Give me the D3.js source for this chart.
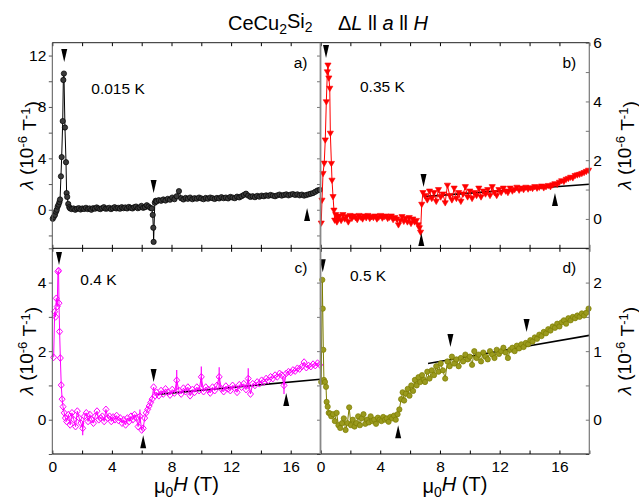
<!DOCTYPE html>
<html>
<head>
<meta charset="utf-8">
<script src="https://cdn.jsdelivr.net/npm/d3@7"></script>
<style>
  body { margin: 0; background: #fff; }
  text { font-family: "Liberation Sans", Arial, Helvetica, sans-serif; fill: #000; }
</style>
</head>
<body>
<svg id="chart" width="639" height="499"></svg>
<script>
// ---- values (field in T, lambda in 1e-6 / T) ----

// common high-field grid used by all four sweeps
const fieldHigh = [7.0,7.15,7.3,7.45,7.6,7.75,7.9,8.05,8.2,8.35,
  8.5,8.65,8.8,8.95,9.1,9.25,9.4,9.55,9.7,9.85,
  10.0,10.15,10.3,10.45,10.6,10.75,10.9,11.05,11.2,11.35,
  11.5,11.65,11.8,11.95,12.1,12.25,12.4,12.55,12.7,12.85,
  13.0,13.15,13.3,13.45,13.6,13.75,13.9,14.05,14.2,14.35,
  14.5,14.65,14.8,14.95,15.1,15.25,15.4,15.55,15.7,15.85,
  16.0,16.15,16.3,16.45,16.6,16.75,16.9,17.05,17.2,17.35,
  17.5,17.65,17.8,17.95];

// a) 0.015 K
const fieldALow = [0.03,0.1,0.18,0.25,0.3,0.36,0.42,0.48,0.52,0.58,0.63,0.7,0.74,0.78,0.85,0.92,0.96,1.0,1.07,1.14,1.2,
  1.3,1.42,1.54,1.66,1.78,1.9,2.02,2.14,2.26,2.38,2.5,2.62,2.74,2.86,2.98,3.1,3.22,3.34,3.46,3.58,
  3.7,3.82,3.94,4.06,4.18,4.3,4.42,4.54,4.66,4.78,4.9,5.02,5.14,5.26,5.38,5.5,5.62,5.74,5.86,5.98,
  6.1,6.22,6.34,6.46,6.58,
  6.68,6.74,6.78,6.8,6.88,6.94];
const lambdaALow = [-0.7,-0.55,-0.4,-0.15,0.0,0.25,0.4,0.6,0.8,2.6,4.1,6.9,10.1,10.6,6.4,3.7,1.3,1.0,0.45,0.2,0.1,
  0.05,0.1,0.0,0.08,0.12,0.02,0.1,0.06,0.15,0.05,0.1,0.0,0.12,0.08,0.18,0.1,0.05,0.12,0.2,0.08,
  0.1,0.15,0.05,0.12,0.2,0.1,0.15,0.08,0.2,0.12,0.18,0.1,0.22,0.15,0.1,0.2,0.25,0.12,0.18,0.3,
  0.15,0.2,0.35,0.25,0.15,
  0.1,-0.4,-1.4,-2.5,0.55,0.7];
const lambdaAHigh = [0.65,0.75,0.7,0.8,0.72,0.85,0.78,0.95,0.82,1.05,
  1.45,0.9,0.8,0.92,0.85,0.95,0.82,0.9,0.86,0.95,
  0.88,0.82,0.92,0.86,0.95,0.9,0.84,0.92,0.88,0.98,
  0.9,0.95,0.88,1.0,0.95,0.9,1.02,0.96,1.05,1.15,
  1.25,1.1,1.0,1.05,0.98,1.08,1.02,1.1,1.05,1.12,
  1.08,1.15,1.1,1.05,1.12,1.18,1.1,1.15,1.2,1.12,
  1.18,1.22,1.15,1.2,1.12,1.18,1.1,1.15,1.2,1.25,
  1.3,1.4,1.5,1.55];

// b) 0.35 K
const fieldBLow = [0.05,0.1,0.17,0.25,0.32,0.39,0.46,0.5,0.56,0.62,0.66,0.73,0.77,0.84,0.9,0.95,1.02,1.1,1.18,
  1.26,1.38,1.5,1.62,1.74,1.86,1.98,2.1,2.22,2.34,2.46,2.58,2.7,2.82,2.94,3.06,3.18,3.3,3.42,3.54,
  3.66,3.78,3.9,4.02,4.14,4.26,4.38,4.5,4.62,4.74,4.86,4.98,5.1,5.22,5.34,5.46,5.58,5.7,5.82,5.94,
  6.06,6.18,6.3,6.42,6.54,6.62,6.7,
  6.78,6.86];
const lambdaBLow = [-0.14,0.64,1.55,1.9,2.69,3.99,5.01,5.24,4.8,4.45,2.92,1.89,1.32,0.76,0.3,-0.04,0.15,-0.1,0.05,
  0.1,-0.05,0.15,0.0,0.08,-0.1,0.12,0.02,0.1,0.05,-0.02,0.12,0.06,0.0,0.1,0.04,0.12,0.02,0.08,0.05,
  0.1,0.0,0.06,0.12,0.03,0.08,0.1,0.02,0.06,0.1,-0.02,0.05,0.0,-0.2,-0.05,0.08,-0.08,0.02,-0.1,0.05,
  -0.15,0.0,-0.1,-0.05,-0.2,-0.3,-0.45,
  0.5,0.9];
const lambdaBHigh = [0.8,0.65,0.95,0.7,0.9,0.6,1.0,0.75,0.85,0.55,
  1.15,0.8,0.65,1.05,0.7,0.9,0.6,0.85,1.1,0.75,
  0.95,0.7,0.9,0.8,1.05,0.75,0.95,0.85,1.0,0.8,
  1.1,0.9,0.8,1.0,0.9,1.05,0.95,0.9,1.05,0.95,
  1.0,1.08,0.98,1.05,1.0,1.08,1.02,1.06,1.04,1.1,
  1.05,1.08,1.12,1.06,1.1,1.14,1.1,1.16,1.2,1.18,
  1.25,1.3,1.28,1.35,1.38,1.42,1.4,1.48,1.5,1.52,
  1.55,1.58,1.62,1.66];

// c) 0.4 K
const fieldCLow = [0.09,0.16,0.22,0.27,0.33,0.38,0.42,0.45,0.49,0.54,0.6,0.66,0.72,0.8,0.88,
  0.96,1.08,1.2,1.32,1.44,1.56,1.68,1.8,1.92,2.04,2.16,2.28,2.4,2.52,2.64,2.76,2.88,3.0,3.12,3.24,
  3.36,3.48,3.6,3.72,3.84,3.96,4.08,4.2,4.32,4.44,4.56,4.68,4.8,4.92,5.04,5.16,5.28,5.4,5.52,5.64,
  5.76,5.88,6.0,6.1,
  6.2,6.3,6.4,6.5,6.6,6.7,6.8,6.9];
const lambdaCLow = [1.82,3.15,3.0,3.54,3.3,4.32,4.35,3.4,2.57,1.8,1.01,0.6,0.38,0.2,0.05,
  -0.05,0.15,-0.15,0.2,0.0,-0.2,0.25,0.05,-0.1,-0.25,0.1,0.2,-0.05,0.15,0.0,-0.1,0.1,0.25,0.0,0.05,
  0.1,-0.05,0.3,0.05,0.1,-0.05,0.08,0.0,0.12,-0.02,0.05,-0.1,0.0,-0.15,0.05,-0.05,0.1,0.0,0.15,0.05,
  -0.2,0.1,-0.3,-0.25,
  0.05,0.2,0.3,0.4,0.5,0.6,0.95,0.7];
const lambdaCHigh = [0.8,0.7,0.85,0.75,0.9,0.8,0.72,0.88,0.78,1.15,
  0.85,0.75,0.92,0.82,0.95,0.7,0.88,0.8,0.95,0.85,
  1.25,0.82,0.95,0.88,0.78,0.95,0.85,1.0,1.25,0.9,
  0.82,0.98,0.9,0.85,1.0,0.92,0.8,1.02,0.95,1.05,
  0.88,1.2,0.75,1.05,1.0,1.1,1.05,1.15,1.1,1.2,
  1.15,1.25,1.2,1.3,1.25,1.35,1.3,1.0,1.35,1.4,
  1.38,1.45,1.42,1.5,1.48,1.55,1.68,1.52,1.58,1.55,
  1.62,1.58,1.65,1.6];
const errFieldC = [2.04, 5.88, 8.35, 10.0, 11.2, 13.15, 15.55];
const errSizeC = [0.2, 0.2, 0.3, 0.3, 0.28, 0.3, 0.25];

// d) 0.5 K
const fieldDLow = [0.05,0.12,0.15,0.19,0.23,0.3,0.37,0.41,0.48,0.55,0.64,
  0.72,0.84,0.96,1.08,1.2,1.32,1.44,1.56,1.68,1.8,1.92,2.04,2.16,2.28,2.4,2.52,2.64,2.76,2.88,3.0,
  3.12,3.24,3.36,3.48,3.6,3.72,3.84,3.96,4.08,4.2,4.32,4.44,4.56,4.68,4.8,4.92,5.04,5.16,
  5.28,5.4,5.5,5.6,5.72,5.84,5.96,6.08,6.2,6.32,6.44,6.56,6.68,6.8,6.92];
const lambdaDLow = [0.55,2.04,1.62,1.02,0.58,0.55,0.48,0.26,0.19,0.1,0.09,
  0.05,0.08,-0.02,0.1,-0.08,-0.12,-0.05,0.02,-0.15,-0.05,0.18,-0.08,0.0,-0.1,-0.05,0.05,-0.08,0.02,0.08,-0.06,
  0.0,-0.04,0.05,-0.02,0.0,-0.06,0.03,0.0,-0.02,0.04,0.0,0.02,-0.03,0.04,0.02,0.06,0.0,0.08,
  0.15,0.3,0.4,0.28,0.38,0.45,0.35,0.5,0.42,0.58,0.5,0.62,0.55,0.65,0.58];
const lambdaDHigh = [0.55,0.7,0.6,0.72,0.65,0.78,0.7,0.82,0.72,0.6,
  0.85,0.78,0.92,0.82,0.88,0.78,0.9,0.85,0.95,0.88,
  0.92,0.8,1.0,0.9,0.95,0.85,0.98,0.92,0.88,1.0,
  0.95,0.9,1.02,0.96,1.0,1.05,0.98,0.9,1.02,1.05,
  1.0,1.08,1.04,1.1,1.06,1.12,1.1,1.16,1.14,1.2,
  1.18,1.24,1.22,1.28,1.26,1.32,1.3,1.36,1.34,1.4,
  1.36,1.42,1.45,1.4,1.48,1.45,1.5,1.48,1.52,1.5,
  1.55,1.52,1.56,1.62];

// linear fits (end points)
const fitFieldB = [6.9, 18], fitLambdaB = [0.76, 1.18];
const fitFieldC = [7.0, 18], fitLambdaC = [0.74, 1.18];
const fitFieldD = [7.2, 18], fitLambdaD = [0.82, 1.23];

// arrow marks: [field, lambda at tip, direction]
const arrowsA = [[0.8, 11.5, 'down'], [6.8, 1.3, 'down'], [17.1, 0.14, 'up']];
const arrowsB = [[0.37, 5.48, 'down'], [6.9, 1.09, 'down'], [6.75, -0.48, 'up'], [15.7, 0.88, 'up']];
const arrowsC = [[0.45, 4.51, 'down'], [6.8, 1.1, 'down'], [6.1, -0.45, 'up'], [15.7, 0.78, 'up']];
const arrowsD = [[0.15, 2.15, 'down'], [5.2, -0.08, 'up'], [8.7, 1.06, 'down'], [13.8, 1.28, 'down']];

// axis ticks
const xTicks = [0, 2, 4, 6, 8, 10, 12, 14, 16, 18];
const xLabels = [0, 4, 8, 12, 16];

// ---- layout ----
const svg = d3.select('#chart');
const frame = { left: 52.3, mid: 320.5, right: 589.3, top: 42.7, midY: 248.3, bottom: 454 };

class Panel {
    constructor(_config, _field, _lambda) {
        this.config = _config;
        this.field = _field;
        this.lambda = _lambda;
        this.initVis();
    }

    initVis() {
        let vis = this;
        const c = vis.config;

        vis.x0 = c.col === 0 ? frame.left : frame.mid;
        vis.x1 = c.col === 0 ? frame.mid : frame.right;
        vis.y0 = c.row === 0 ? frame.top : frame.midY;
        vis.y1 = c.row === 0 ? frame.midY : frame.bottom;

        vis.xScale = d3.scaleLinear().domain([0, 18]).range([vis.x0, vis.x1]);
        vis.yScale = d3.scaleLinear().domain(c.yDomain).range([vis.y1, vis.y0]);

        vis.g = svg.append('g');

        vis.data = vis.field.map((h, i) => ({ h: h, l: vis.lambda[i] }))
            .filter(d => d.l !== undefined);

        vis.renderVis();
    }

    renderVis() {
        let vis = this;
        const c = vis.config;
        const x = vis.xScale, y = vis.yScale;

        // bottom + top ticks (inward)
        vis.g.append('g')
            .attr('transform', `translate(0,${vis.y1})`)
            .call(d3.axisBottom(x).tickValues(xTicks).tickSize(-3.5).tickPadding(7)
                .tickFormat(d => (c.row === 1 && xLabels.includes(d)) ? d : ''))
            .call(g => g.select('.domain').remove())
            .call(g => g.selectAll('line').attr('stroke', '#000'))
            .call(g => g.selectAll('text').style('font-size', '15.5px'));

        vis.g.append('g')
            .attr('transform', `translate(0,${vis.y0})`)
            .call(d3.axisTop(x).tickValues(xTicks).tickSize(-3.5).tickFormat(''))
            .call(g => g.select('.domain').remove())
            .call(g => g.selectAll('line').attr('stroke', '#000'));

        // y ticks
        const fmt = d => c.yLabels.includes(d) ? d : '';
        if (c.col === 0) {
            vis.g.append('g')
                .attr('transform', `translate(${vis.x0},0)`)
                .call(d3.axisLeft(y).tickValues(c.yTicks).tickSize(3.5).tickPadding(2.5).tickFormat(fmt))
                .call(g => g.select('.domain').remove())
                .call(g => g.selectAll('line').attr('stroke', '#555'))
                .call(g => g.selectAll('text').style('font-size', '15.5px'));
            vis.g.append('g')
                .attr('transform', `translate(${vis.x1},0)`)
                .call(d3.axisRight(y).tickValues(c.yTicks).tickSize(-3.5).tickFormat(''))
                .call(g => g.select('.domain').remove())
                .call(g => g.selectAll('line').attr('stroke', '#777'));
        } else {
            vis.g.append('g')
                .attr('transform', `translate(${vis.x1},0)`)
                .call(d3.axisRight(y).tickValues(c.yTicks).tickSize(-3.5).tickPadding(4).tickFormat(fmt))
                .call(g => g.select('.domain').remove())
                .call(g => g.selectAll('line').attr('stroke', '#777'))
                .call(g => g.selectAll('text').style('font-size', '15.5px'));
        }

        // fit line
        if (c.fit) {
            vis.g.append('line')
                .attr('x1', x(c.fit[0][0])).attr('y1', y(c.fit[1][0]))
                .attr('x2', x(c.fit[0][1])).attr('y2', y(c.fit[1][1]))
                .attr('stroke', '#000').attr('stroke-width', 1.6);
        }

        // connecting line
        vis.g.append('path')
            .datum(vis.data)
            .attr('fill', 'none')
            .attr('stroke', c.color)
            .attr('stroke-width', 1)
            .attr('d', d3.line().x(d => x(d.h)).y(d => y(d.l)));

        // error bars
        if (c.err) {
            c.err[0].forEach((h, i) => {
                const p = vis.data.find(d => Math.abs(d.h - h) < 0.001);
                if (!p) return;
                vis.g.append('line')
                    .attr('x1', x(p.h)).attr('x2', x(p.h))
                    .attr('y1', y(p.l - c.err[1][i])).attr('y2', y(p.l + c.err[1][i]))
                    .attr('stroke', c.color).attr('stroke-width', 1.2);
            });
        }

        // markers
        const m = vis.g.append('g').selectAll('.pt')
            .data(vis.data)
            .join('path')
            .attr('class', 'pt')
            .attr('transform', d => `translate(${x(d.h)},${y(d.l)})`);
        if (c.marker === 'circle') {
            m.attr('d', d3.symbol(d3.symbolCircle, 22)())
                .attr('fill', c.fill).attr('stroke', c.color).attr('stroke-width', 0.7);
        } else if (c.marker === 'tridown') {
            m.attr('d', 'M-3.1,-2L3.1,-2L0,3.3Z')
                .attr('fill', c.color).attr('stroke', c.color).attr('stroke-width', 0.6);
        } else {
            m.attr('d', 'M0,-3.4L3,0L0,3.4L-3,0Z')
                .attr('fill', 'none').attr('stroke', c.color).attr('stroke-width', 1);
        }

        // arrow marks
        vis.g.selectAll('.arrow')
            .data(c.arrows)
            .join('path')
            .attr('class', 'arrow')
            .attr('transform', d => `translate(${x(d[0])},${y(d[1])})`)
            .attr('d', d => d[2] === 'down' ? 'M-3,-13L3,-13L0,0Z' : 'M-3,13L3,13L0,0Z')
            .attr('fill', '#000');

        // panel letter + temperature
        vis.g.append('text')
            .attr('x', vis.x1 - 13).attr('y', vis.y0 + 25)
            .attr('text-anchor', 'end')
            .style('font-size', '15.5px')
            .text(c.letter);
        vis.g.append('text')
            .attr('x', vis.x0 + c.tempPos[0]).attr('y', vis.y0 + c.tempPos[1])
            .style('font-size', '15.5px')
            .text(c.temp);

        // y title
        const tx = c.col === 0 ? 33 : 631;
        const ty = (vis.y0 + vis.y1) / 2;
        const t = vis.g.append('text')
            .attr('transform', `translate(${tx},${ty}) rotate(-90)`)
            .attr('text-anchor', 'middle')
            .style('font-size', '19px');
        t.append('tspan').style('font-style', 'italic').text('λ');
        t.append('tspan').text(' (10');
        t.append('tspan').attr('dy', '-0.45em').style('font-size', '13px').text('-6');
        t.append('tspan').attr('dy', '0.45em').text(' T');
        t.append('tspan').attr('dy', '-0.45em').style('font-size', '13px').text('-1');
        t.append('tspan').attr('dy', '0.45em').text(')');

        // x title
        if (c.row === 1) {
            const xt = vis.g.append('text')
                .attr('x', (vis.x0 + vis.x1) / 2).attr('y', 493)
                .attr('text-anchor', 'middle')
                .style('font-size', '20px');
            xt.append('tspan').text('μ');
            xt.append('tspan').attr('dy', '0.3em').style('font-size', '14px').text('0');
            xt.append('tspan').attr('dy', '-0.3em').style('font-style', 'italic').text('H');
            xt.append('tspan').text(' (T)');
        }
    }
}

new Panel({ col: 0, row: 0, yDomain: [-3, 13], yTicks: [-2, 0, 2, 4, 6, 8, 10, 12], yLabels: [0, 4, 8, 12],
    color: '#000', fill: '#3a3a3a', marker: 'circle', letter: 'a)', temp: '0.015 K', tempPos: [39, 51],
    arrows: arrowsA }, fieldALow.concat(fieldHigh), lambdaALow.concat(lambdaAHigh));

new Panel({ col: 1, row: 0, yDomain: [-1, 6], yTicks: [-1, 0, 1, 2, 3, 4, 5, 6], yLabels: [0, 2, 4, 6],
    color: '#ff0000', marker: 'tridown', letter: 'b)', temp: '0.35 K', tempPos: [39.5, 49],
    arrows: arrowsB, fit: [fitFieldB, fitLambdaB] }, fieldBLow.concat(fieldHigh), lambdaBLow.concat(lambdaBHigh));

new Panel({ col: 0, row: 1, yDomain: [-1, 5], yTicks: [-1, 0, 1, 2, 3, 4, 5], yLabels: [0, 2, 4],
    color: '#ff00ff', marker: 'diamond', letter: 'c)', temp: '0.4 K', tempPos: [28, 37],
    arrows: arrowsC, fit: [fitFieldC, fitLambdaC], err: [errFieldC, errSizeC] },
    fieldCLow.concat(fieldHigh), lambdaCLow.concat(lambdaCHigh));

new Panel({ col: 1, row: 1, yDomain: [-0.5, 2.5], yTicks: [-0.5, 0, 0.5, 1, 1.5, 2, 2.5], yLabels: [0, 1, 2],
    color: '#7d7d00', fill: '#9a9a1e', marker: 'circle', letter: 'd)', temp: '0.5 K', tempPos: [29.5, 33],
    arrows: arrowsD, fit: [fitFieldD, fitLambdaD] }, fieldDLow.concat(fieldHigh), lambdaDLow.concat(lambdaDHigh));

// frame lines
const frameG = svg.append('g').attr('fill', 'none');
frameG.append('line').attr('x1', frame.left).attr('x2', frame.right).attr('y1', frame.top).attr('y2', frame.top)
    .attr('stroke', '#222');
frameG.append('line').attr('x1', frame.left).attr('x2', frame.right).attr('y1', frame.midY).attr('y2', frame.midY)
    .attr('stroke', '#000');
frameG.append('line').attr('x1', frame.left).attr('x2', frame.right).attr('y1', frame.bottom).attr('y2', frame.bottom)
    .attr('stroke', '#000');
frameG.append('line').attr('x1', frame.left).attr('x2', frame.left).attr('y1', frame.top).attr('y2', frame.bottom)
    .attr('stroke', '#555');
frameG.append('line').attr('x1', frame.mid).attr('x2', frame.mid).attr('y1', frame.top).attr('y2', frame.bottom)
    .attr('stroke', '#888').attr('stroke-width', 1.8);
frameG.append('line').attr('x1', frame.right).attr('x2', frame.right).attr('y1', frame.top).attr('y2', frame.bottom)
    .attr('stroke', '#777').attr('stroke-width', 1.2);

// title
const title1 = svg.append('text').attr('x', 228).attr('y', 30).style('font-size', '20px');
title1.append('tspan').text('CeCu');
title1.append('tspan').attr('dy', '0.3em').style('font-size', '14px').text('2');
title1.append('tspan').attr('dy', '-0.3em').text('Si');
title1.append('tspan').attr('dy', '0.3em').style('font-size', '14px').text('2');

const title2 = svg.append('text').attr('x', 338).attr('y', 30).style('font-size', '20px');
title2.append('tspan').text('Δ');
title2.append('tspan').style('font-style', 'italic').text('L');
title2.append('tspan').text(' ll ');
title2.append('tspan').style('font-style', 'italic').text('a');
title2.append('tspan').text(' ll ');
title2.append('tspan').style('font-style', 'italic').text('H');
</script>
</body>
</html>
